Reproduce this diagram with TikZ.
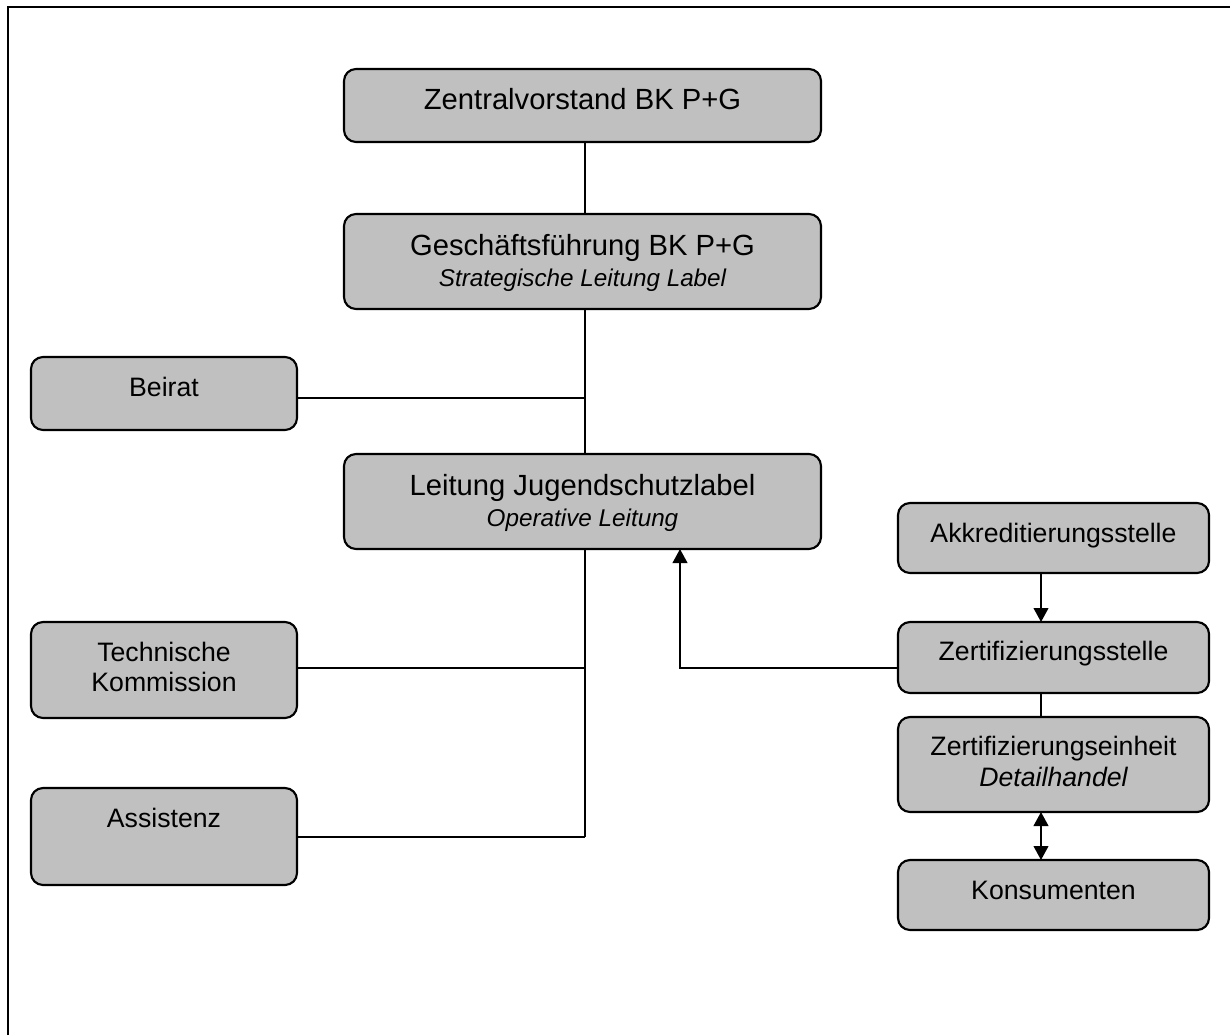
\documentclass[tikz,border=0pt]{standalone}
\usepackage{fontspec}
\setmainfont{Liberation Sans}
\usetikzlibrary{arrows.meta}
\definecolor{boxgray}{HTML}{C0C0C0}
\newcommand{\bxt}[4]{\parbox[c][#2][t]{#1}{\centering\rule{0pt}{#3}#4\par}}
\newcommand{\bigf}{\fontsize{21.9pt}{23pt}\selectfont}
\newcommand{\smlf}{\fontsize{20pt}{23pt}\selectfont}
\newcommand{\itf}{\fontsize{18.2pt}{23pt}\selectfont\itshape}
\tikzset{
  orgbox/.style={draw, line width=1.6pt, fill=boxgray, rounded corners=9pt,
    inner sep=0pt, outer sep=0pt, anchor=north west},
  conn/.style={line width=1.5pt},
  arr/.style={conn, -{Triangle[width=11pt,length=10.5pt]}},
  darr/.style={conn, {Triangle[width=11pt,length=10.5pt]}-{Triangle[width=11pt,length=10.5pt]}},
  frame/.style={line width=2.2pt}
}
\begin{document}
\begin{tikzpicture}[x=0.75pt, y=-0.75pt]
\useasboundingbox (0,0) rectangle (1230,1035);
% outer frame (only top and left edges visible)
\coordinate (fbl) at (8,1035);
\coordinate (ftl) at (8,7);
\coordinate (ftr) at (1230,7);
\draw[frame] (fbl) -- (ftl) -- (ftr);

% boxes
\node[orgbox] (zv) at (344,69) {\bxt{357.75pt}{54.75pt}{30.5pt}{\bigf Zentralvorstand BK P+G}};
\node[orgbox] (gf) at (344,214) {\bxt{357.75pt}{71.25pt}{31pt}{\bigf Gesch\"aftsf\"uhrung BK P+G\\{\itf Strategische Leitung Label}}};
\node[orgbox] (beirat) at (31,357) {\bxt{199.5pt}{54.75pt}{29.3pt}{\smlf Beirat}};
\node[orgbox] (lj) at (344,454) {\bxt{357.75pt}{71.25pt}{31pt}{\bigf Leitung Jugendschutzlabel\\{\itf Operative Leitung}}};
\node[orgbox] (akk) at (898,503) {\bxt{233.25pt}{52.5pt}{29.3pt}{\smlf Akkreditierungsstelle}};
\node[orgbox] (zs) at (898,622) {\bxt{233.25pt}{53.25pt}{29pt}{\smlf Zertifizierungsstelle}};
\node[orgbox] (ze) at (898,717) {\bxt{233.25pt}{71.25pt}{29pt}{\smlf Zertifizierungseinheit\\{\itshape Detailhandel}}};
\node[orgbox] (kons) at (898,860) {\bxt{233.25pt}{52.5pt}{29.3pt}{\smlf Konsumenten}};
\node[orgbox] (tk) at (31,622) {\bxt{199.5pt}{72pt}{29.3pt}{\smlf Technische\\Kommission}};
\node[orgbox] (assist) at (31,788) {\bxt{199.5pt}{72.75pt}{29.3pt}{\smlf Assistenz}};

% helper coordinates
\coordinate (t) at (585,0);
\coordinate (yb) at (0,398);
\coordinate (ytk) at (0,668);
\coordinate (yas) at (0,837);
\coordinate (xa) at (680,0);
\coordinate (xr) at (1041,0);

% connectors
\draw[conn] (zv.south -| t) -- (gf.north -| t);
\draw[conn] (gf.south -| t) -- (lj.north -| t);
\draw[conn] (beirat.east |- yb) -- (t |- yb);
\draw[conn] (lj.south -| t) -- (t |- yas);
\draw[conn] (tk.east |- ytk) -- (t |- ytk);
\draw[conn] (assist.east |- yas) -- (t |- yas);
\draw[arr] (zs.west |- ytk) -| (lj.south -| xa);
\draw[arr] (akk.south -| xr) -- (zs.north -| xr);
\draw[conn] (zs.south -| xr) -- (ze.north -| xr);
\draw[darr] (ze.south -| xr) -- (kons.north -| xr);
\end{tikzpicture}
\end{document}
